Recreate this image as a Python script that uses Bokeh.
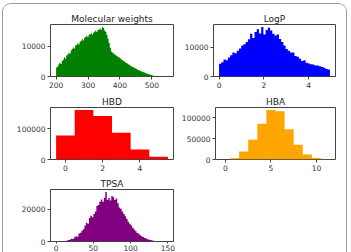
import numpy as np
from bokeh.plotting import figure
from bokeh.layouts import column, row
from bokeh.models import Range1d, FixedTicker, BasicTickFormatter
from bokeh.embed import file_html
from bokeh.resources import INLINE

# ---------------- data ----------------
mw_start, mw_width = 200.0, 3.5
mw_counts = [3000, 3300, 4100, 4600, 4200, 5200, 5600, 6400, 5900, 7000,
             7300, 7900, 7600, 8700, 9200, 9700, 9300, 10300, 10600, 11100,
             10700, 11600, 11900, 12400, 12000, 12900, 13200, 13600, 13100, 13900,
             14100, 14400, 13900, 14600, 14900, 15300, 14800, 15500, 15700, 16000,
             15600, 16500, 16200, 15300, 14800, 13800, 12600, 11200, 9600, 8300,
             8000, 7700, 7300, 7100, 6800, 6500, 6300, 6000, 5700, 5400,
             5200, 4900, 4600, 4400, 4100, 3900, 3600, 3400, 3200, 3000,
             2800, 2600, 2400, 2200, 2000, 1900, 1700, 1550, 1400, 1250,
             1100, 950, 850, 700, 600, 500, 300, 200, 150, 110,
             80, 60, 45, 35, 25, 20, 15, 10, 8, 5]

logp_start, logp_width = 0.0, 0.099
logp_counts = [4350, 4900, 5800, 5600, 6500, 7300, 8200, 8000, 8800, 9600,
               10600, 11100, 11800, 12800, 14700, 13200, 15300, 16200, 14800, 17000,
               14400, 16000, 16700, 15800, 14700, 14100, 14400, 12900, 11800, 10600,
               9400, 8800, 8200, 8200, 7000, 6800, 6100, 5300, 5600, 4700,
               4500, 4200, 4100, 3800, 3800, 3500, 3300, 3000, 2600, 2400]

hbd_start, hbd_width = -0.5, 1.0
hbd_counts = [78000, 160500, 141000, 87000, 32500, 8800]

hba_start, hba_width = -0.5, 1.0
hba_counts = [200, 3000, 19000, 47000, 85000, 118000, 115000, 72000, 35000, 12000, 3500, 500]

tpsa_start, tpsa_width = 0.0, 2.0
tpsa_counts = [20, 30, 50, 80, 120, 200, 350, 600, 900, 1200,
               1700, 1500, 2600, 3300, 2900, 5000, 5400, 6800, 7600, 9800,
               11500, 11000, 14500, 15800, 15000, 17000, 18500, 21800, 22500, 24500,
               25800, 24500, 27000, 30500, 25500, 26800, 25200, 28000, 27200, 25500,
               26500, 23500, 21000, 20200, 18500, 17000, 15500, 13800, 12200, 10900,
               9800, 8500, 7400, 6300, 5300, 4700, 3900, 3200, 2700, 2200,
               1800, 1400, 1100, 850, 650, 500, 380, 280, 200, 150,
               110, 80, 55, 40, 30]

titles = ["Molecular weights", "LogP", "HBD", "HBA", "TPSA"]
colors = ["green", "blue", "red", "orange", "purple"]
xticks = [[200, 300, 400, 500], [0, 2, 4], [0, 2, 4], [0, 5, 10], [0, 50, 100, 150]]
yticks = [[0, 10000], [0, 10000], [0, 100000], [0, 50000, 100000], [0, 20000]]

FONT = "DejaVu Sans"


def make_hist(title, start, width_bin, counts, color, xt, yt,
              w, h, bl, br, bt, bb, x_out=3, x_standoff=2):
    counts = np.asarray(counts, dtype=float)
    edges = start + width_bin * np.arange(len(counts) + 1)
    lo, hi = edges[0], edges[-1]
    pad = (hi - lo) * 0.05
    p = figure(width=w, height=h, output_backend="svg", toolbar_location=None,
               x_range=Range1d(lo - pad, hi + pad),
               y_range=Range1d(0, counts.max() * 1.05),
               min_border_left=bl, min_border_right=br,
               min_border_top=bt, min_border_bottom=bb)
    # step outline of the histogram, filled
    xs = np.repeat(edges, 2)
    ys = np.concatenate([[0.0], np.repeat(counts, 2), [0.0]])
    p.patch(xs, ys, fill_color=color, line_color=None)
    p.title.text = title
    p.title.align = "center"
    p.title.text_font = FONT
    p.title.text_font_size = "9px"
    p.title.text_font_style = "normal"
    p.title.text_color = "#222222"
    p.title.standoff = 2
    p.outline_line_color = "#444444"
    p.outline_line_width = 1
    p.grid.visible = False
    p.background_fill_color = "white"
    p.border_fill_color = "white"
    for ax in (p.xaxis[0], p.yaxis[0]):
        ax.axis_line_color = None
        ax.major_tick_out = 3
        ax.major_tick_in = 0
        ax.minor_tick_line_color = None
        ax.major_tick_line_color = "#444444"
        ax.major_label_text_font = FONT
        ax.major_label_text_font_size = "7.5px"
        ax.major_label_text_color = "#333333"
        ax.major_label_standoff = 2
    p.xaxis[0].major_tick_out = x_out
    p.xaxis[0].major_label_standoff = x_standoff
    p.xaxis[0].ticker = FixedTicker(ticks=xt)
    p.yaxis[0].ticker = FixedTicker(ticks=yt)
    p.yaxis[0].formatter = BasicTickFormatter(use_scientific=False)
    p.xaxis[0].formatter = BasicTickFormatter(use_scientific=False)
    return p


W1, W2 = 175, 168
p1 = make_hist(titles[0], mw_start, mw_width, mw_counts, colors[0], xticks[0], yticks[0],
               W1, 87, 47, 5, 20, 15)
p2 = make_hist(titles[1], logp_start, logp_width, logp_counts, colors[1], xticks[1], yticks[1],
               W2, 87, 35, 11, 20, 15)
p3 = make_hist(titles[2], hbd_start, hbd_width, hbd_counts, colors[2], xticks[2], yticks[2],
               W1, 82, 47, 5, 16, 14)
p4 = make_hist(titles[3], hba_start, hba_width, hba_counts, colors[3], xticks[3], yticks[3],
               W2, 82, 35, 11, 16, 14)
p5 = make_hist(titles[4], tpsa_start, tpsa_width, tpsa_counts, colors[4], xticks[4], yticks[4],
               W1, 80, 47, 5, 16, 11, x_out=2, x_standoff=1)

root = column(row(p1, p2), row(p3, p4), row(p5),
              styles={"border": "1.5px solid #9a9a9a", "border-bottom": "none",
                      "border-radius": "9px 9px 0 0", "margin-left": "2px",
                      "margin-top": "3px", "overflow": "hidden",
                      "height": "249px", "background": "white"})

open("out.html", "w").write(file_html(root, INLINE))
